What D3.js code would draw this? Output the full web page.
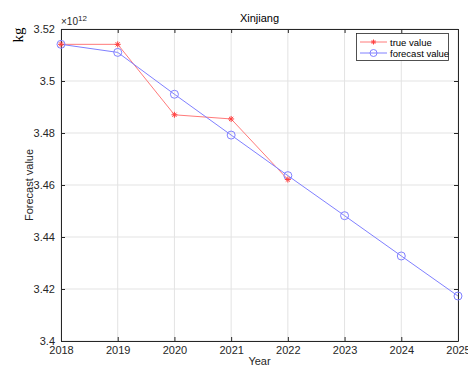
<!DOCTYPE html>
<html><head><meta charset="utf-8">
<script src="https://cdn.jsdelivr.net/npm/d3@7"></script>
<style>body{margin:0;background:#fff}svg{display:block}text{font-family:Helvetica,"Liberation Sans",Arial,sans-serif}</style>
</head><body><div id="chart"></div>
<script>
const years = [2018, 2019, 2020, 2021, 2022, 2023, 2024, 2025];
const trueYears = [2018, 2019, 2020, 2021, 2022];
const trueValues = [3.5141, 3.5141, 3.4870, 3.4854, 3.4621];
const forecastValues = [3.5141, 3.5110, 3.4949, 3.4792, 3.4636, 3.4482, 3.4327, 3.4173];
const yTicks = [3.4, 3.42, 3.44, 3.46, 3.48, 3.5, 3.52];
const yTickLabels = ["3.4", "3.42", "3.44", "3.46", "3.48", "3.5", "3.52"];
const seriesNames = ["true value", "forecast value"];

const W = 468, H = 369;
const m = {l: 61, r: 10, t: 29, b: 28};
const svg = d3.select("#chart").append("svg").attr("width", W).attr("height", H);
const x = d3.scaleLinear().domain([2018, 2025]).range([m.l, W - m.r]);
const y = d3.scaleLinear().domain([3.4, 3.52]).range([H - m.b, m.t]);
const axisColor = "#262626";
const gridColor = "#e3e3e3";

// grid
const g = svg.append("g");
g.selectAll(".gx").data(years).enter().append("line")
  .attr("x1", d => x(d)).attr("x2", d => x(d)).attr("y1", m.t).attr("y2", H - m.b)
  .attr("stroke", gridColor).attr("stroke-width", 1);
g.selectAll(".gy").data(yTicks).enter().append("line")
  .attr("y1", d => y(d)).attr("y2", d => y(d)).attr("x1", m.l).attr("x2", W - m.r)
  .attr("stroke", gridColor).attr("stroke-width", 1);

// axes
const xAxis = d3.axisBottom(x).tickValues(years).tickFormat(d3.format("d")).tickSizeInner(-4).tickSizeOuter(0).tickPadding(6);
const yAxis = d3.axisLeft(y).tickValues(yTicks).tickFormat((d, i) => yTickLabels[i]).tickSizeInner(-4).tickSizeOuter(0).tickPadding(6);
const xa = svg.append("g").attr("transform", `translate(0,${H - m.b})`).call(xAxis);
const ya = svg.append("g").attr("transform", `translate(${m.l},0)`).call(yAxis);
const xt = svg.append("g").attr("transform", `translate(0,${m.t})`).call(d3.axisTop(x).tickValues(years).tickFormat("").tickSizeInner(-4).tickSizeOuter(0));
const yr = svg.append("g").attr("transform", `translate(${W - m.r},0)`).call(d3.axisRight(y).tickValues(yTicks).tickFormat("").tickSizeInner(-4).tickSizeOuter(0));
[xa, ya, xt, yr].forEach(a => {
  a.selectAll("path").attr("stroke", axisColor).attr("stroke-width", 1);
  a.selectAll("line").attr("stroke", axisColor);
  a.selectAll("text").attr("fill", axisColor).style("font-size", "11px");
});
xa.selectAll("text").attr("dy", "0.75em").attr("y", 5);

// lines
const lineT = d3.line().x((d, i) => x(trueYears[i])).y(d => y(d));
const lineF = d3.line().x((d, i) => x(years[i])).y(d => y(d));
const red = "#ff7a7a", blue = "#8080ff";
svg.append("path").attr("d", lineT(trueValues)).attr("fill", "none").attr("stroke", red).attr("stroke-width", 1);
svg.append("path").attr("d", lineF(forecastValues)).attr("fill", "none").attr("stroke", blue).attr("stroke-width", 1);

function star(sel, cx, cy, r, color) {
  const s = sel.append("g").attr("stroke", color).attr("stroke-width", 1);
  s.append("line").attr("x1", cx - r).attr("x2", cx + r).attr("y1", cy).attr("y2", cy);
  s.append("line").attr("x1", cx).attr("x2", cx).attr("y1", cy - r).attr("y2", cy + r);
  const k = r * 0.7;
  s.append("line").attr("x1", cx - k).attr("x2", cx + k).attr("y1", cy - k).attr("y2", cy + k);
  s.append("line").attr("x1", cx - k).attr("x2", cx + k).attr("y1", cy + k).attr("y2", cy - k);
}
svg.append("g").selectAll("circle").data(forecastValues).enter().append("circle")
  .attr("cx", (d, i) => x(years[i])).attr("cy", d => y(d)).attr("r", 4)
  .attr("fill", "none").attr("stroke", blue).attr("stroke-width", 1);
const sg = svg.append("g");
trueValues.forEach((d, i) => star(sg, x(trueYears[i]), y(d), 3, "#ff4040"));

// texts
svg.append("text").attr("x", (m.l + W - m.r) / 2).attr("y", 22).attr("text-anchor", "middle")
  .style("font-size", "11px").attr("fill", "#000").text("Xinjiang");
svg.append("text").attr("x", (m.l + W - m.r) / 2).attr("y", 365).attr("text-anchor", "middle")
  .style("font-size", "11px").attr("fill", axisColor).text("Year");
svg.append("text").attr("transform", `translate(33,${(m.t + H - m.b) / 2}) rotate(-90)`).attr("text-anchor", "middle")
  .style("font-size", "11px").attr("fill", axisColor).text("Forecast value");
svg.append("text").attr("transform", "translate(23,35) rotate(-90)").attr("text-anchor", "middle")
  .style("font-family", "'Liberation Serif','Times New Roman',serif").style("font-size", "15px").attr("fill", "#000").text("kg");
const ex = svg.append("text").attr("x", 61).attr("y", 25).style("font-size", "10px").attr("fill", axisColor);
ex.append("tspan").text("×10");
ex.append("tspan").attr("dy", -4).style("font-size", "8px").text("12");

// legend
const lg = svg.append("g");
lg.append("rect").attr("x", 356.5).attr("y", 33.5).attr("width", 92).attr("height", 27)
  .attr("fill", "#fff").attr("stroke", axisColor).attr("stroke-width", 0.8);
const lc = [red, blue];
seriesNames.forEach((n, i) => {
  const ly = 42 + i * 11;
  lg.append("line").attr("x1", 360).attr("x2", 387).attr("y1", ly).attr("y2", ly).attr("stroke", lc[i]);
  if (i === 0) star(lg, 373.5, ly, 2.5, "#ff4040");
  else lg.append("circle").attr("cx", 373.5).attr("cy", ly).attr("r", 3.5).attr("fill", "none").attr("stroke", blue);
  lg.append("text").attr("x", 390).attr("y", ly + 3.5).style("font-size", "9.5px").attr("fill", "#000").text(n);
});
</script></body></html>
